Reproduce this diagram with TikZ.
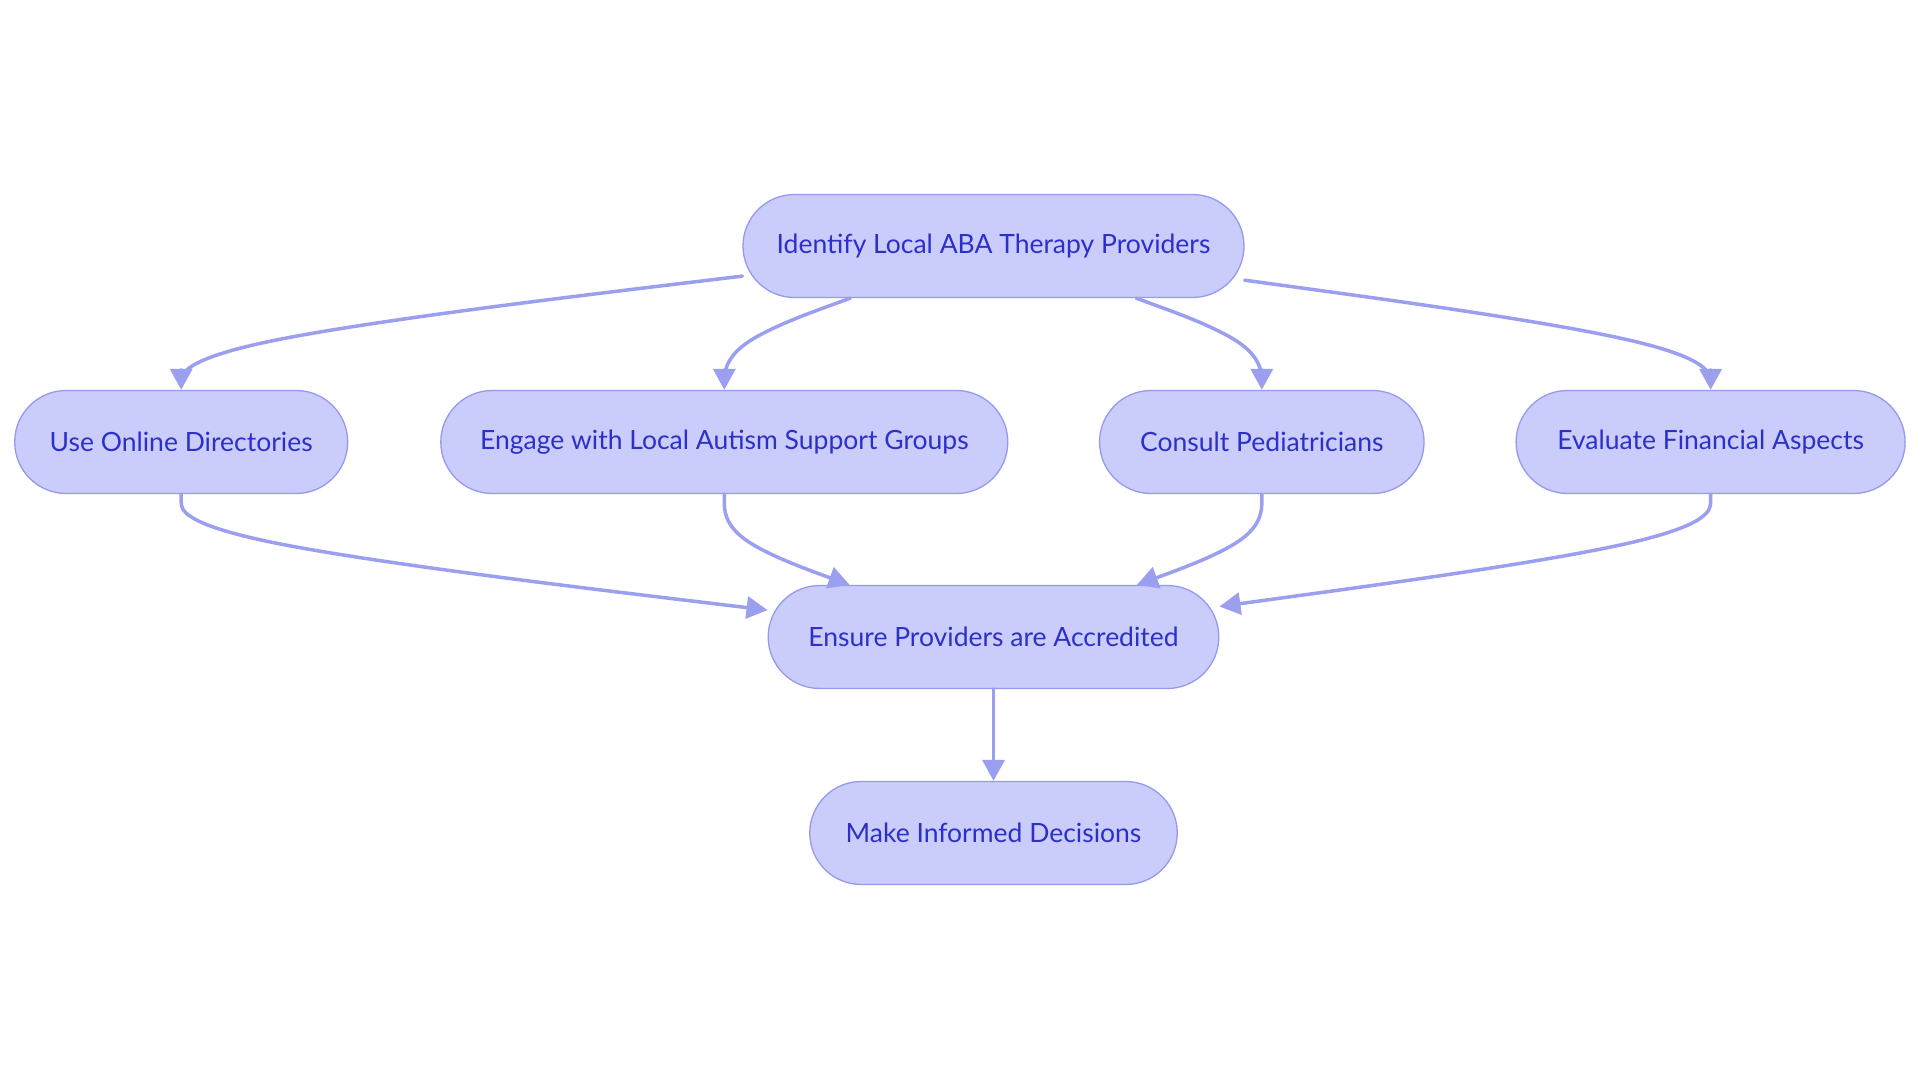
\documentclass[tikz,border=0pt]{standalone}
\usepackage{fontspec}
\setmainfont{Lato}
\usetikzlibrary{calc,arrows.meta}
\definecolor{nodefill}{RGB}{202,204,252}
\definecolor{nodeline}{RGB}{150,154,238}
\definecolor{edgecol}{RGB}{155,159,240}
\definecolor{txtcol}{RGB}{44,48,200}
\tikzset{
  stadium/.style={rectangle, rounded corners=51.5pt, draw=nodeline, fill=nodefill,
    line width=1.3pt, minimum height=103pt, inner sep=0pt, text=txtcol,
    font=\fontsize{26.5}{32}\selectfont},
  edge/.style={draw=edgecol, line width=3.5pt, line cap=round,
    -{Triangle[length=21pt,width=22pt]}},
}
% basis-spline edge: #1 start node, #2 middle control point, #3 end node
\newcommand{\basisedge}[3]{%
  \coordinate (bP1) at (#2);
  \path (bP1) -- coordinate[pos=1] (bP0) (#1);
  \path (bP1) -- coordinate[pos=1] (bP2) (#3);
  \draw[edge] (#1) -- ($(bP0)!0.166667!(bP1)$)
    .. controls ($(bP0)!0.333333!(bP1)$) and ($(bP0)!0.666667!(bP1)$)
    .. ($0.166667*(bP0)+0.666667*(bP1)+0.166667*(bP2)$)
    .. controls ($(bP1)!0.333333!(bP2)$) and ($(bP1)!0.666667!(bP2)$)
    .. ($(bP1)!0.833333!(bP2)$) -- (#3);
}
\begin{document}
\begin{tikzpicture}[x=1pt,y=-1pt]
\useasboundingbox[fill=white] (0,0) rectangle (1920,1083);
\node[stadium, minimum width=501pt] (top) at (993.5,246) {Identify Local ABA Therapy Providers};
\node[stadium, minimum width=333pt] (online) at (181.2,442) {Use Online Directories};
\node[stadium, minimum width=567pt] (engage) at (724.3,442) {Engage with Local Autism Support Groups};
\node[stadium, minimum width=324.5pt] (consult) at (1261.8,442) {Consult Pediatricians};
\node[stadium, minimum width=389pt] (evaluate) at (1710.6,442) {Evaluate Financial Aspects};
\node[stadium, minimum width=450.6pt] (ensure) at (993.5,637) {Ensure Providers are Accredited};
\node[stadium, minimum width=367.5pt] (make) at (993.5,833) {Make Informed Decisions};

\basisedge{top}{181.2,344}{online}
\basisedge{top}{724.3,344}{engage}
\basisedge{top}{1261.8,344}{consult}
\basisedge{top}{1710.6,344}{evaluate}
\basisedge{online}{181.2,539.5}{ensure}
\basisedge{engage}{724.3,539.5}{ensure}
\basisedge{consult}{1261.8,539.5}{ensure}
\basisedge{evaluate}{1710.6,539.5}{ensure}
\draw[edge] (ensure) -- (make);
\end{tikzpicture}
\end{document}
